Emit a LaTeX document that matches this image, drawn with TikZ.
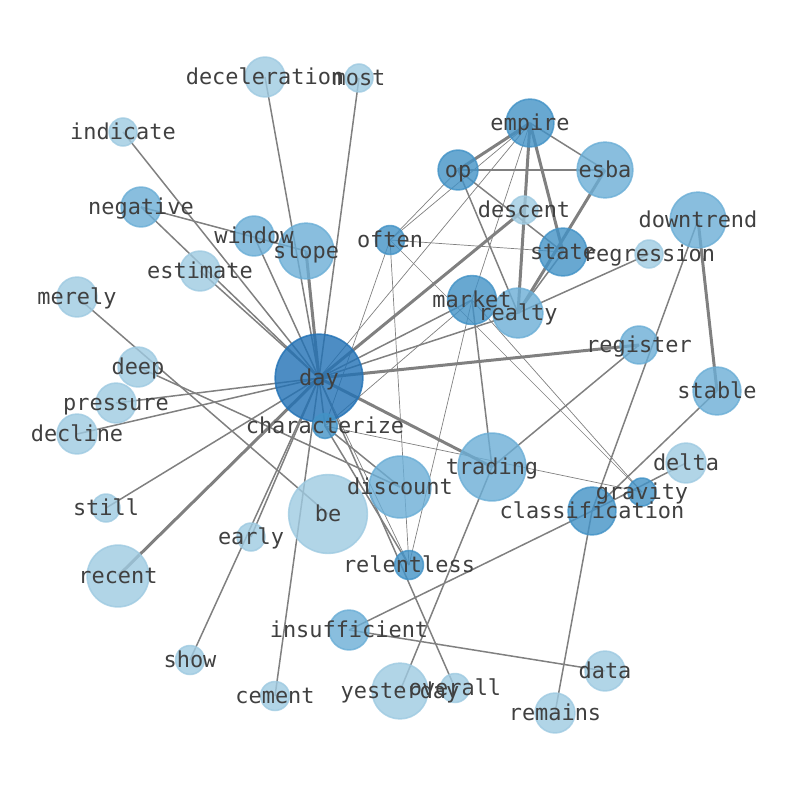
\documentclass[tikz,border=0pt]{standalone}
\usepackage{fontspec}
\setmonofont{DejaVu Sans Mono}
\definecolor{bluea}{RGB}{158,202,225}
\definecolor{blueb}{RGB}{107,174,214}
\definecolor{bluec}{RGB}{66,146,198}
\definecolor{blued}{RGB}{33,113,181}
\pgfdeclarelayer{edges}
\pgfsetlayers{edges,main}
\tikzset{
	word/.style={circle, inner sep=0pt, line width=1.6bp, fill opacity=0.8, draw opacity=0.8},
	pale/.style={word, fill=bluea, draw=bluea},
	mid/.style={word, fill=blueb, draw=blueb},
	deepc/.style={word, fill=bluec, draw=bluec},
	hub/.style={word, fill=blued, draw=blued},
	tag/.style={font=\ttfamily\fontsize{22}{26}\selectfont, text=black!75, inner sep=0pt, text height=0.76em, text depth=0.23em, yshift=-5bp},
	link/.style={draw=gray, line width=1.5bp},
	heavy/.style={draw=gray, line width=3bp},
	faint/.style={draw=gray, line width=0.7bp},
}
\begin{document}
\begin{tikzpicture}[x=1bp,y=-1bp]
\useasboundingbox (0,0) rectangle (794,790);

%Hub
\node [hub, minimum size=88]  (day)at (319,378) {};
\node [deepc, minimum size=25]  (characterize)at (325,426) {};

%Upper left words
\node [pale, minimum size=40]  (deceleration)at (265,77) {};
\node [pale, minimum size=28]  (most)at (359,78) {};
\node [pale, minimum size=28]  (indicate)at (123,132) {};
\node [mid, minimum size=40]  (negative)at (141,207) {};
\node [mid, minimum size=40]  (window)at (254,236) {};
\node [mid, minimum size=56]  (slope)at (306,251) {};
\node [pale, minimum size=40]  (estimate)at (200,271) {};
\node [pale, minimum size=40]  (merely)at (77,297) {};

%Upper right words
\node [deepc, minimum size=29]  (often)at (390,240) {};
\node [deepc, minimum size=40]  (op)at (458,170) {};
\node [deepc, minimum size=48]  (empire)at (530,123) {};
\node [mid, minimum size=56]  (esba)at (605,170) {};
\node [pale, minimum size=28]  (descent)at (524,210) {};
\node [deepc, minimum size=48]  (state)at (563,252) {};
\node [pale, minimum size=28]  (regression)at (649,254) {};
\node [mid, minimum size=56]  (downtrend)at (698,220) {};
\node [deepc, minimum size=49]  (market)at (472,300) {};
\node [mid, minimum size=50]  (realty)at (518,313) {};
\node [mid, minimum size=38]  (register)at (639,345) {};
\node [mid, minimum size=48]  (stable)at (717,391) {};

%Left words
\node [pale, minimum size=40]  (deep)at (138,367) {};
\node [pale, minimum size=40]  (pressure)at (116,403) {};
\node [pale, minimum size=40]  (decline)at (77,434) {};
\node [pale, minimum size=28]  (still)at (106,508) {};
\node [pale, minimum size=62]  (recent)at (118,576) {};
\node [pale, minimum size=28]  (early)at (251,537) {};

%Middle words
\node [mid, minimum size=62]  (discount)at (400,487) {};
\node [mid, minimum size=68]  (trading)at (492,467) {};
\node [pale, minimum size=79]  (be)at (328,514) {};
\node [deepc, minimum size=29]  (relentless)at (409,565) {};
\node [pale, minimum size=40]  (delta)at (686,463) {};
\node [deepc, minimum size=28]  (gravity)at (642,492) {};
\node [deepc, minimum size=48]  (classification)at (592,511) {};

%Lower words
\node [mid, minimum size=40]  (insufficient)at (349,630) {};
\node [pale, minimum size=29]  (show)at (190,660) {};
\node [pale, minimum size=29]  (cement)at (275,696) {};
\node [pale, minimum size=56]  (yesterday)at (400,691) {};
\node [pale, minimum size=29]  (overall)at (455,688) {};
\node [pale, minimum size=40]  (data)at (605,671) {};
\node [pale, minimum size=40]  (remains)at (555,713) {};

%Connectors
\begin{pgfonlayer}{edges}
\draw[link] (day.center) -- (deceleration.center);
\draw[link] (day.center) -- (most.center);
\draw[link] (day.center) -- (indicate.center);
\draw[link] (day.center) -- (negative.center);
\draw[link] (day.center) -- (estimate.center);
\draw[link] (day.center) -- (window.center);
\draw[heavy] (day.center) -- (slope.center);
\draw[link] (day.center) -- (pressure.center);
\draw[link] (day.center) -- (decline.center);
\draw[link] (day.center) -- (still.center);
\draw[heavy] (day.center) -- (recent.center);
\draw[link] (day.center) -- (early.center);
\draw[link] (day.center) -- (show.center);
\draw[link] (day.center) -- (cement.center);
\draw[link] (day.center) -- (characterize.center);
\draw[heavy] (day.center) -- (register.center);
\draw[heavy] (day.center) -- (trading.center);
\draw[link] (day.center) -- (market.center);
\draw[link] (day.center) -- (realty.center);
\draw[heavy] (day.center) -- (descent.center);
\draw[faint] (day.center) -- (empire.center);
\draw[link] (day.center) -- (overall.center);
\draw[faint] (day.center) -- (relentless.center);

\draw[link] (characterize.center) -- (discount.center);
\draw[link] (characterize.center) -- (relentless.center);
\draw[faint] (characterize.center) -- (often.center);
\draw[faint] (characterize.center) -- (gravity.center);
\draw[faint] (characterize.center) -- (market.center);

\draw[link] (negative.center) -- (slope.center);
\draw[link] (merely.center) -- (be.center);
\draw[link] (deep.center) -- (discount.center);

\draw[heavy] (op.center) -- (empire.center);
\draw[link] (op.center) -- (esba.center);
\draw[link] (op.center) -- (state.center);
\draw[link] (op.center) -- (realty.center);
\draw[faint] (op.center) -- (often.center);
\draw[faint] (empire.center) -- (often.center);
\draw[faint] (empire.center) -- (market.center);
\draw[heavy] (empire.center) -- (realty.center);
\draw[heavy] (empire.center) -- (state.center);
\draw[link] (empire.center) -- (esba.center);
\draw[heavy] (esba.center) -- (realty.center);
\draw[link] (state.center) -- (realty.center);

\draw[faint] (often.center) -- (state.center);
\draw[faint] (often.center) -- (relentless.center);
\draw[faint] (often.center) -- (gravity.center);
\draw[faint] (market.center) -- (gravity.center);
\draw[link] (market.center) -- (trading.center);
\draw[faint] (market.center) -- (relentless.center);
\draw[link] (realty.center) -- (regression.center);

\draw[heavy] (downtrend.center) -- (stable.center);
\draw[link] (downtrend.center) -- (classification.center);
\draw[link] (register.center) -- (trading.center);
\draw[link] (trading.center) -- (yesterday.center);
\draw[link] (stable.center) -- (classification.center);
\draw[link] (classification.center) -- (delta.center);
\draw[link] (classification.center) -- (insufficient.center);
\draw[link] (classification.center) -- (remains.center);
\draw[link] (insufficient.center) -- (data.center);
\end{pgfonlayer}

%Labels
\node [tag]  (daytext)at (day) {day};
\node [tag]  (characterizetext)at (characterize) {characterize};
\node [tag]  (decelerationtext)at (deceleration) {deceleration};
\node [tag]  (mosttext)at (most) {most};
\node [tag]  (indicatetext)at (indicate) {indicate};
\node [tag]  (negativetext)at (negative) {negative};
\node [tag]  (windowtext)at (window) {window};
\node [tag]  (slopetext)at (slope) {slope};
\node [tag]  (estimatetext)at (estimate) {estimate};
\node [tag]  (merelytext)at (merely) {merely};
\node [tag]  (oftentext)at (often) {often};
\node [tag]  (optext)at (op) {op};
\node [tag]  (empiretext)at (empire) {empire};
\node [tag]  (esbatext)at (esba) {esba};
\node [tag]  (descenttext)at (descent) {descent};
\node [tag]  (statetext)at (state) {state};
\node [tag]  (regressiontext)at (regression) {regression};
\node [tag]  (downtrendtext)at (downtrend) {downtrend};
\node [tag]  (markettext)at (market) {market};
\node [tag]  (realtytext)at (realty) {realty};
\node [tag]  (registertext)at (register) {register};
\node [tag]  (stabletext)at (stable) {stable};
\node [tag]  (deeptext)at (deep) {deep};
\node [tag]  (pressuretext)at (pressure) {pressure};
\node [tag]  (declinetext)at (decline) {decline};
\node [tag]  (stilltext)at (still) {still};
\node [tag]  (recenttext)at (recent) {recent};
\node [tag]  (earlytext)at (early) {early};
\node [tag]  (discounttext)at (discount) {discount};
\node [tag]  (tradingtext)at (trading) {trading};
\node [tag]  (betext)at (be) {be};
\node [tag]  (relentlesstext)at (relentless) {relentless};
\node [tag]  (deltatext)at (delta) {delta};
\node [tag]  (gravitytext)at (gravity) {gravity};
\node [tag]  (classificationtext)at (classification) {classification};
\node [tag]  (insufficienttext)at (insufficient) {insufficient};
\node [tag]  (showtext)at (show) {show};
\node [tag]  (cementtext)at (cement) {cement};
\node [tag]  (yesterdaytext)at (yesterday) {yesterday};
\node [tag]  (overalltext)at (overall) {overall};
\node [tag]  (datatext)at (data) {data};
\node [tag]  (remainstext)at (remains) {remains};

\end{tikzpicture}
\end{document}
